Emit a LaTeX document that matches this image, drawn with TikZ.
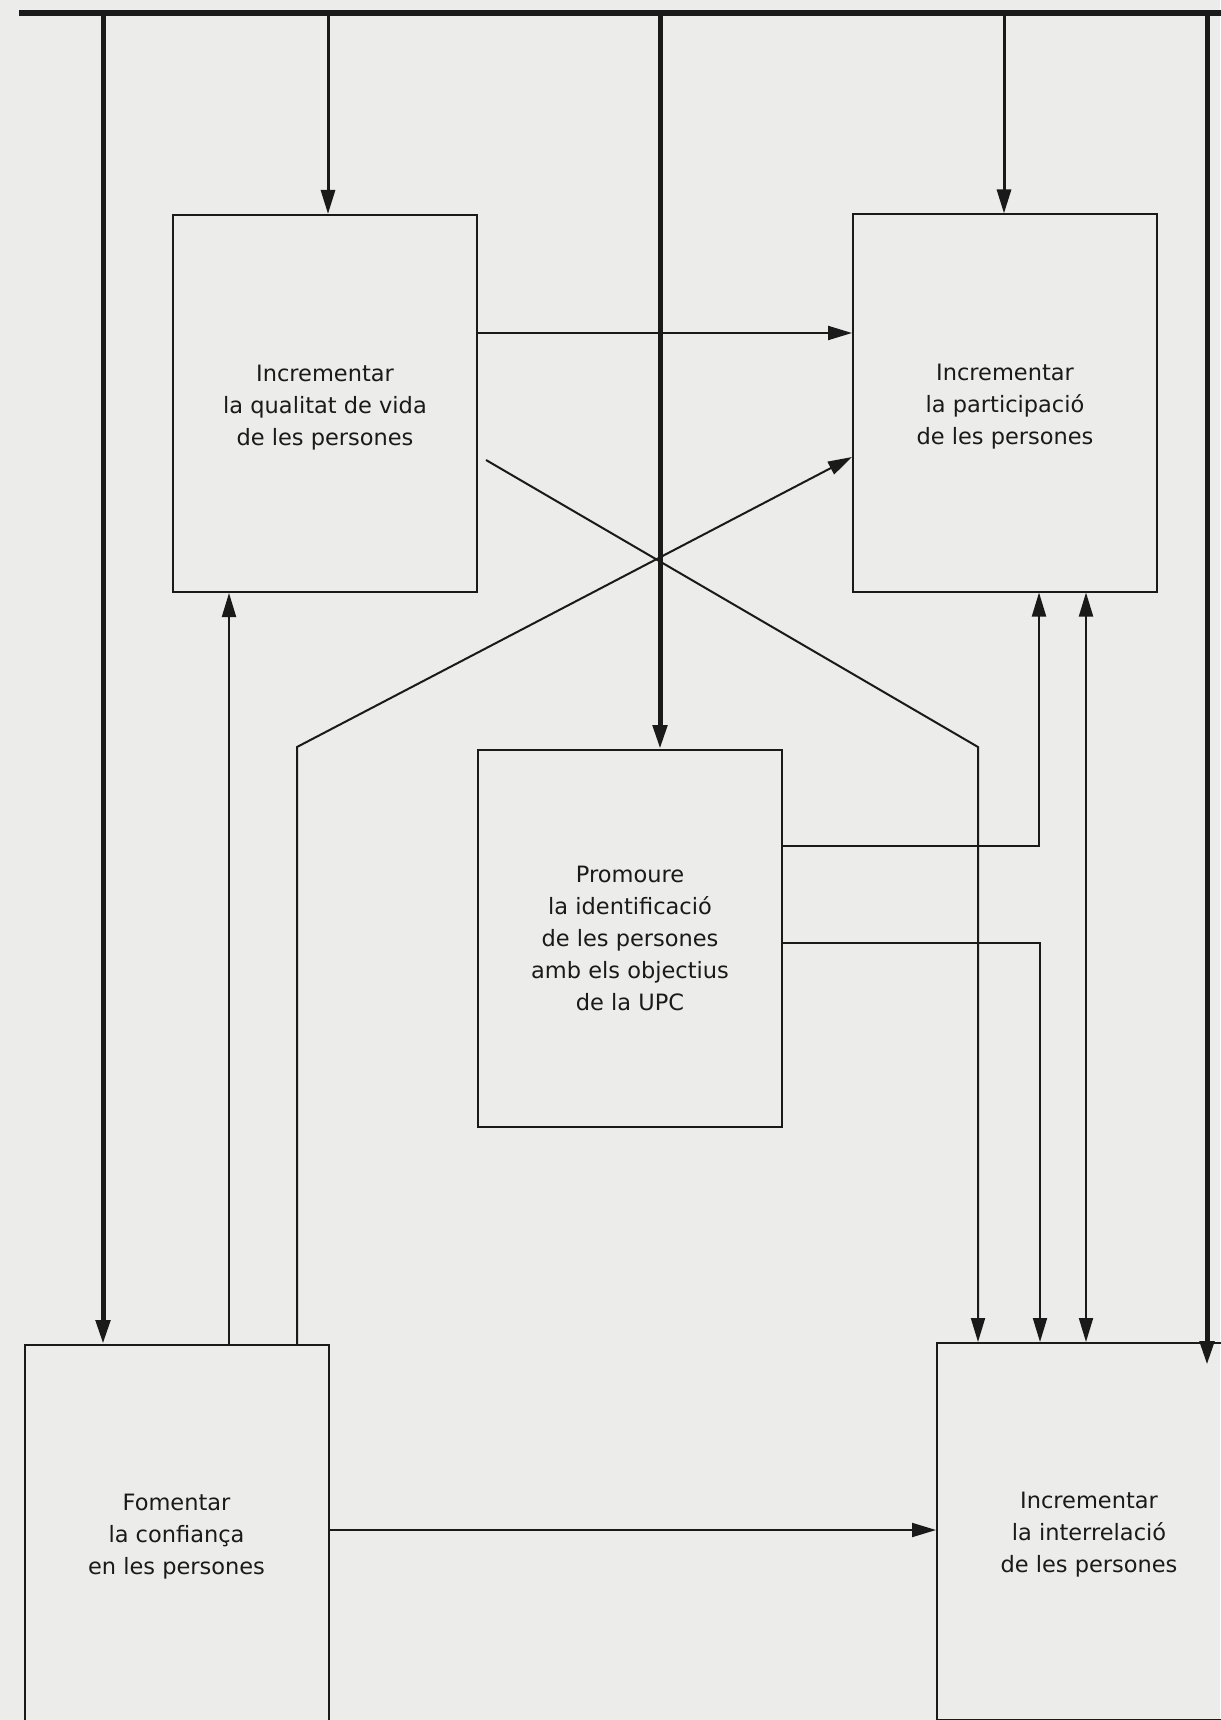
\documentclass[tikz,border=0pt]{standalone}
\usepackage{fontspec}
\setmainfont{DejaVu Sans}
\usetikzlibrary{arrows.meta}
\definecolor{paper}{HTML}{ECECEA}
\definecolor{ink}{HTML}{1A1A1A}
\tikzset{
  box/.style={draw=ink, line width=2pt, rectangle, inner sep=0pt,
    minimum width=304pt, minimum height=377pt},
  boxtext/.style={inner sep=0pt, align=center,
    font=\fontsize{22.5}{32}\selectfont, text=ink},
  thinline/.style={draw=ink, line width=2pt},
  midline/.style={draw=ink, line width=3pt},
  heavyline/.style={draw=ink, line width=5pt},
  arr/.style={-{Triangle[length=24pt,width=14pt]}},
  dblarr/.style={{Triangle[length=24pt,width=14pt]}-{Triangle[length=24pt,width=14pt]}}
}
\begin{document}
\begin{tikzpicture}[x=1pt,y=-1pt]
\useasboundingbox (0,0) rectangle (1220,1720);
\fill[paper] (0,0) rectangle (1220,1720);

% boxes
\node[box] (qual)  at (325,403.5) {};
\node[box] (part)  at (1005,403) {};
\node[box] (prom)  at (630,938.5) {};
\node[box] (fom)   at (176.5,1533.5) {};
\node[box] (inter) at (1089,1531.5) {};

% texts
\node[boxtext] (qualT)  at ([yshift=-4pt]qual.center)  {Incrementar\\la qualitat de vida\\de les persones};
\node[boxtext] (partT)  at ([yshift=-4pt]part.center)  {Incrementar\\la participació\\de les persones};
\node[boxtext] (promT)  at (prom.center)  {Promoure\\la identificació\\de les persones\\amb els objectius\\de la UPC};
\node[boxtext] (fomT)   at ([yshift=-3pt]fom.center)   {Fomentar\\la confiança\\en les persones};
\node[boxtext] (interT) at ([yshift=-3pt]inter.center) {Incrementar\\la interrelació\\de les persones};

% top bar
\coordinate (barL) at (19,13);
\coordinate (barR) at (1226,13);
\draw[draw=ink, line width=6pt] (barL) -- (barR);

\coordinate (t1) at (103,13);
\coordinate (t2) at (328,13);
\coordinate (t3) at (660,13);
\coordinate (t4) at (1004,13);
\coordinate (t5) at (1207,13);
\coordinate (e5) at (1207,1365);

\draw[heavyline,arr] (t1) -- (t1 |- fom.north);
\draw[midline,arr]   (t2) -- (t2 |- qual.north);
\draw[heavyline,arr] (t3) -- (t3 |- prom.north);
\draw[midline,arr]   (t4) -- (t4 |- part.north);
\draw[heavyline,arr] (t5) -- (e5);

% qualitat -> participacio
\draw[thinline,arr] (qual.east |- 0,333) -- (part.west |- 0,333);

% diagonal from qualitat side down to interrelacio
\coordinate (d1s) at (486,460);
\coordinate (d1k) at (978,747);
\draw[thinline,arr] (d1s) -- (d1k) -- (d1k |- inter.north);

% diagonal from confianca up to participacio
\coordinate (d2k) at (297,747);
\coordinate (d2e) at (853,457);
\draw[thinline,arr] (d2k |- fom.north) -- (d2k) -- (part.west |- d2e);

% confianca -> qualitat
\coordinate (c9) at (229,1000);
\draw[thinline,arr] (c9 |- fom.north) -- (c9 |- qual.south);

% promoure -> participacio
\coordinate (k10) at (1039,846);
\draw[thinline,arr] (prom.east |- k10) -- (k10) -- (k10 |- part.south);

% promoure -> interrelacio
\coordinate (k11) at (1040,943);
\draw[thinline,arr] (prom.east |- k11) -- (k11) -- (k11 |- inter.north);

% participacio <-> interrelacio
\coordinate (c12) at (1086,900);
\draw[thinline,dblarr] (c12 |- part.south) -- (c12 |- inter.north);

% confianca -> interrelacio
\coordinate (c13) at (600,1530);
\draw[thinline,arr] (fom.east |- c13) -- (inter.west |- c13);
\end{tikzpicture}
\end{document}
